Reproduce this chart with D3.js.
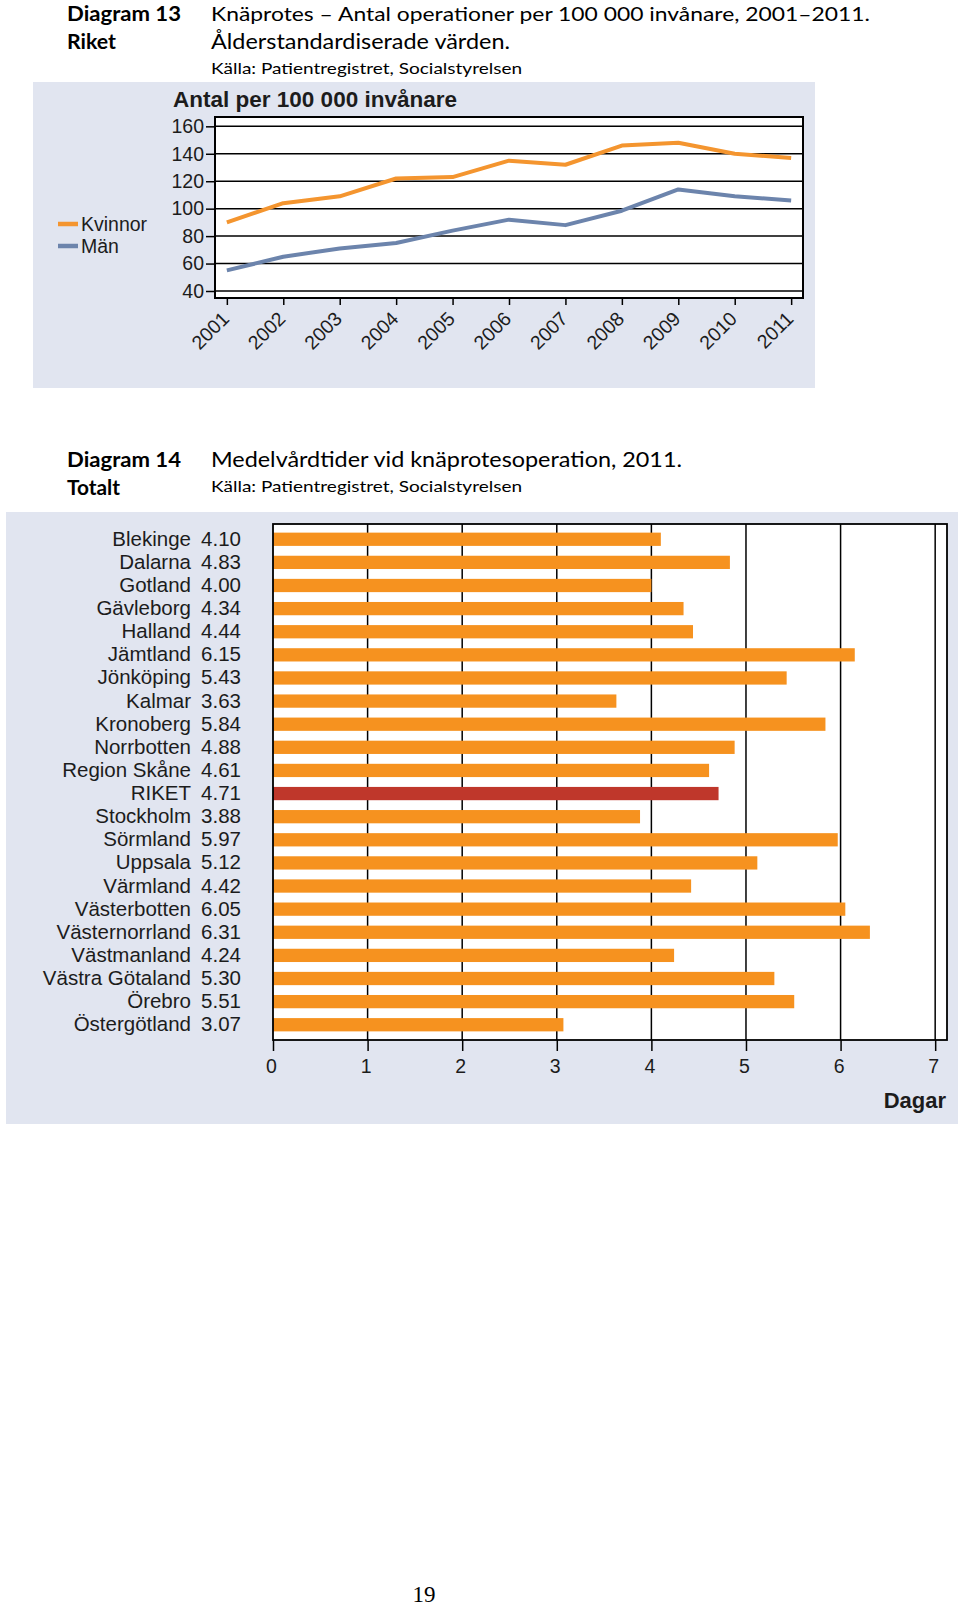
<!DOCTYPE html>
<html><head><meta charset="utf-8">
<script src="https://cdn.jsdelivr.net/npm/d3@7/dist/d3.min.js"></script>
<style>
body{margin:0;background:#fff}
svg text{font-family:"Liberation Sans",Arial,sans-serif}
</style>
</head><body>
<svg id="c" width="960" height="1608"></svg>
<script>
// ---------- data ----------
const years = [2001,2002,2003,2004,2005,2006,2007,2008,2009,2010,2011];
const kvinnor = [90,104,109,122,123,135,132,146,148,140,137];
const man = [55,65,71,75,84,92,88,98.5,114,109,106];
const seriesNames = ["Kvinnor","Män"];
const yTicks1 = [40,60,80,100,120,140,160];

const regions = ["Blekinge","Dalarna","Gotland","Gävleborg","Halland","Jämtland","Jönköping","Kalmar","Kronoberg","Norrbotten","Region Skåne","RIKET","Stockholm","Sörmland","Uppsala","Värmland","Västerbotten","Västernorrland","Västmanland","Västra Götaland","Örebro","Östergötland"];
const days = [4.10,4.83,4.00,4.34,4.44,6.15,5.43,3.63,5.84,4.88,4.61,4.71,3.88,5.97,5.12,4.42,6.05,6.31,4.24,5.30,5.51,3.07];
const xTicks2 = [0,1,2,3,4,5,6,7];

// ---------- setup ----------
const svg = d3.select("#c");
const PANEL = "#E1E5F0", ORANGE_L = "#F4952F", BLUE_L = "#6C84AC", ORANGE_B = "#F6921F", RED_B = "#BF372B", INK = "#1c1c1c";
svg.append("rect").attr("width",960).attr("height",1608).attr("fill","#fff");

function htext(t, x, y, size, weight, len){
  const el = svg.append("text").attr("x",x).attr("y",y).text(t)
    .style("font-family","Lato, 'Open Sans', sans-serif").style("font-size",size+"px")
    .style("font-weight",weight).attr("fill","#000");
  if(len){ el.attr("textLength",len).attr("lengthAdjust","spacingAndGlyphs"); }
  return el;
}
// Header 13
htext("Diagram 13",67,20.5,20,"bold",114);
htext("Riket",67,48.5,20.5,"bold",49);
htext("Knäprotes – Antal operationer per 100 000 invånare, 2001–2011.",211,20.5,20,"normal",659);
htext("Ålderstandardiserade värden.",211,48.5,20.5,"normal",299);
htext("Källa: Patientregistret, Socialstyrelsen",211,74,15,"normal",311);
// Header 14
htext("Diagram 14",67,467,21,"bold",114);
htext("Totalt",67,495,21,"bold",53);
htext("Medelvårdtider vid knäprotesoperation, 2011.",211,467,21,"normal",471);
htext("Källa: Patientregistret, Socialstyrelsen",211,492,15,"normal",311);

// ---------- chart 1: line ----------
const p1 = {l:215, r:803, t:117, b:298};
svg.append("rect").attr("x",33).attr("y",82).attr("width",782).attr("height",306).attr("fill",PANEL);
svg.append("rect").attr("x",p1.l).attr("y",p1.t).attr("width",p1.r-p1.l).attr("height",p1.b-p1.t).attr("fill","#fff");

const x1 = d3.scalePoint().domain(years).range([p1.l,p1.r]).padding(0.21);
const y1 = d3.scaleLinear().domain([34.9,166.8]).range([p1.b,p1.t]);

svg.append("g").selectAll("line").data(yTicks1).join("line")
  .attr("x1",p1.l).attr("x2",p1.r).attr("y1",d=>y1(d)).attr("y2",d=>y1(d))
  .attr("stroke","#000").attr("stroke-width",1.5);

svg.append("text").attr("x",173).attr("y",107).text("Antal per 100 000 invånare")
  .style("font-size","22px").style("font-weight","bold").attr("fill",INK)
  .attr("textLength",284).attr("lengthAdjust","spacingAndGlyphs");

const line = d3.line().x((d,i)=>x1(years[i])).y(d=>y1(d));
[[man,BLUE_L],[kvinnor,ORANGE_L]].forEach(([s,c])=>{
  svg.append("path").datum(s).attr("d",line).attr("fill","none").attr("stroke",c)
    .attr("stroke-width",4).attr("stroke-linejoin","round");
});
svg.append("rect").attr("x",p1.l).attr("y",p1.t).attr("width",p1.r-p1.l).attr("height",p1.b-p1.t)
  .attr("fill","none").attr("stroke","#000").attr("stroke-width",2);

const ya1 = svg.append("g").attr("transform",`translate(${p1.l},0)`)
  .call(d3.axisLeft(y1).tickValues(yTicks1).tickSize(9).tickPadding(2));
ya1.select(".domain").remove();
ya1.selectAll("line").attr("stroke","#000").attr("stroke-width",1.5);
ya1.selectAll("text").style("font-size","19.5px").style("font-family","'Liberation Sans',Arial,sans-serif").attr("fill",INK);

const xa1 = svg.append("g").attr("transform",`translate(0,${p1.b})`)
  .call(d3.axisBottom(x1).tickSize(7).tickFormat(d3.format("d")));
xa1.select(".domain").remove();
xa1.selectAll("line").attr("stroke","#000").attr("stroke-width",1.5);
xa1.selectAll("text").style("font-size","19.5px").style("font-family","'Liberation Sans',Arial,sans-serif").attr("fill",INK)
  .attr("text-anchor","end").attr("y",0).attr("dy",0)
  .attr("transform","translate(3,22) rotate(-45)");

// legend
const lg = svg.append("g");
[[seriesNames[0],ORANGE_L,224],[seriesNames[1],BLUE_L,246]].forEach(([n,c,yy])=>{
  lg.append("line").attr("x1",58).attr("x2",78).attr("y1",yy).attr("y2",yy).attr("stroke",c).attr("stroke-width",4.5);
  lg.append("text").attr("x",81).attr("y",yy+6.5).text(n).style("font-size","19.5px").attr("fill",INK);
});

// ---------- chart 2: bars ----------
const p2 = {l:273, r:947, t:524, b:1040};
svg.append("rect").attr("x",6).attr("y",512).attr("width",952).attr("height",612).attr("fill",PANEL);
svg.append("rect").attr("x",p2.l).attr("y",p2.t).attr("width",p2.r-p2.l).attr("height",p2.b-p2.t).attr("fill","#fff");

const x2 = d3.scaleLinear().domain([0,7.125]).range([p2.l,p2.r]);
const y2 = d3.scaleBand().domain(regions).range([p2.t,p2.b]).paddingInner(0.426).paddingOuter(0.373);

svg.append("g").selectAll("line").data(xTicks2.slice(1)).join("line")
  .attr("x1",d=>x2(d)).attr("x2",d=>x2(d)).attr("y1",p2.t).attr("y2",p2.b)
  .attr("stroke","#000").attr("stroke-width",1.5);

svg.append("g").selectAll("rect").data(regions).join("rect")
  .attr("x",x2(0)).attr("y",d=>y2(d)).attr("height",y2.bandwidth())
  .attr("width",(d,i)=>x2(days[i])-x2(0))
  .attr("fill",d=>d==="RIKET"?RED_B:ORANGE_B);

svg.append("rect").attr("x",p2.l).attr("y",p2.t).attr("width",p2.r-p2.l).attr("height",p2.b-p2.t)
  .attr("fill","none").attr("stroke","#000").attr("stroke-width",1.8);

const xa2 = svg.append("g").attr("transform",`translate(0,${p2.b})`)
  .call(d3.axisBottom(x2).tickValues(xTicks2).tickSize(11).tickPadding(8).tickFormat(d3.format("d")));
xa2.select(".domain").remove();
xa2.selectAll("line").attr("stroke","#000").attr("stroke-width",1.5);
xa2.selectAll("text").style("font-size","19.5px").style("font-family","'Liberation Sans',Arial,sans-serif").attr("fill",INK).attr("dx",-2);

svg.append("text").attr("x",946).attr("y",1108).attr("text-anchor","end").text("Dagar")
  .style("font-size","22px").style("font-weight","bold").attr("fill",INK);

const lab = svg.append("g");
regions.forEach((r,i)=>{
  const cy = y2(r)+y2.bandwidth()/2;
  lab.append("text").attr("x",191).attr("y",cy+6.5).attr("text-anchor","end").text(r)
    .style("font-size","20.5px").attr("fill",INK);
  lab.append("text").attr("x",241).attr("y",cy+6.5).attr("text-anchor","end").text(d3.format(".2f")(days[i]))
    .style("font-size","20.5px").attr("fill",INK);
});

// page number
svg.append("text").attr("x",424).attr("y",1602).attr("text-anchor","middle").text("19")
  .style("font-family","'Liberation Serif','Times New Roman',serif").style("font-size","23px").attr("fill","#000");
</script>
</body></html>
